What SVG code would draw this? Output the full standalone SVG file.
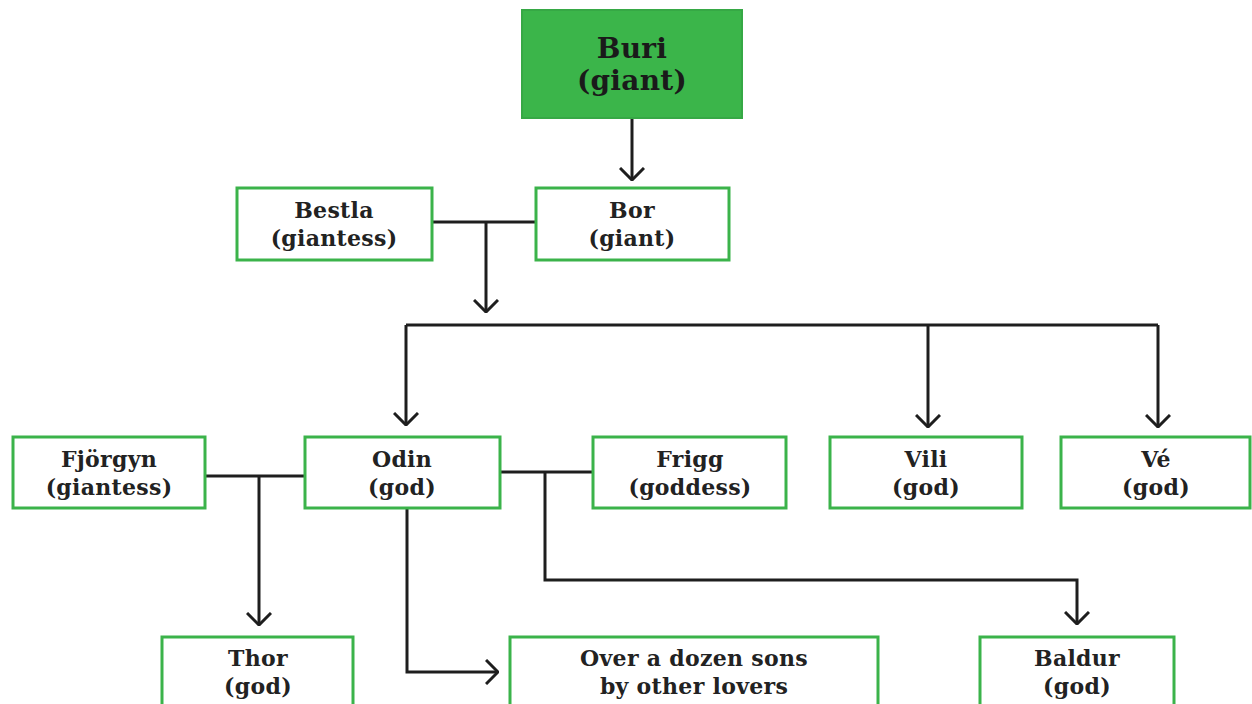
<svg xmlns="http://www.w3.org/2000/svg" width="1252" height="704" viewBox="0 0 1252 704">
<style>
.box{fill:#fff;stroke:#3bb34a;stroke-width:3}
.top{fill:#3bb54a;stroke:#36a845;stroke-width:2}
.t{font-family:"DejaVu Serif","Liberation Serif",serif;font-weight:bold;font-size:22px;fill:#222;text-anchor:middle;letter-spacing:0.3px}
.tb{font-size:28px;fill:#1a1a1a}
.c{fill:none;stroke:#1e1e1e;stroke-width:3}
.a{marker-end:url(#arr)}
</style>
<defs>
<marker id="arr" viewBox="0 0 14 26" refX="13" refY="13" markerWidth="14" markerHeight="26" markerUnits="userSpaceOnUse" orient="auto">
<path d="M1,1 L13,13 L1,25" fill="none" stroke="#1e1e1e" stroke-width="3"/>
</marker>
</defs>
<rect width="1252" height="704" fill="#fff"/>
<g id="connectors">
<path class="c a" d="M632,118 V180"/>
<path class="c" d="M432,222 H536"/>
<path class="c a" d="M486,222 V312"/>
<path class="c" d="M406,325 H1158"/>
<path class="c a" d="M406,325 V425"/>
<path class="c a" d="M928,325 V427"/>
<path class="c a" d="M1158,325 V427"/>
<path class="c" d="M205,476 H305"/>
<path class="c a" d="M259,476 V625"/>
<path class="c" d="M500,472 H593"/>
<path class="c a" d="M545,472 V580 H1077 V624"/>
<path class="c a" d="M407,509 V672 H498"/>
</g>
<g id="buri"><rect class="top" x="522" y="10" width="220" height="108"/><text class="t tb" x="632" y="58">Buri</text><text class="t tb" x="632" y="90">(giant)</text></g>
<g id="bestla"><rect class="box" x="237" y="188" width="195" height="72"/><text class="t" x="334" y="218">Bestla</text><text class="t" x="334" y="246">(giantess)</text></g>
<g id="bor"><rect class="box" x="536" y="188" width="193" height="72"/><text class="t" x="632" y="218">Bor</text><text class="t" x="632" y="246">(giant)</text></g>
<g id="fjorgyn"><rect class="box" x="13" y="437" width="192" height="71"/><text class="t" x="109" y="467">Fjörgyn</text><text class="t" x="109" y="495">(giantess)</text></g>
<g id="odin"><rect class="box" x="305" y="437" width="195" height="71"/><text class="t" x="402" y="467">Odin</text><text class="t" x="402" y="495">(god)</text></g>
<g id="frigg"><rect class="box" x="593" y="437" width="193" height="71"/><text class="t" x="690" y="467">Frigg</text><text class="t" x="690" y="495">(goddess)</text></g>
<g id="vili"><rect class="box" x="830" y="437" width="192" height="71"/><text class="t" x="926" y="467">Vili</text><text class="t" x="926" y="495">(god)</text></g>
<g id="ve"><rect class="box" x="1061" y="437" width="189" height="71"/><text class="t" x="1156" y="467">Vé</text><text class="t" x="1156" y="495">(god)</text></g>
<g id="thor"><rect class="box" x="162" y="637" width="191" height="80"/><text class="t" x="258" y="666">Thor</text><text class="t" x="258" y="694">(god)</text></g>
<g id="sons"><rect class="box" x="510" y="637" width="368" height="80"/><text class="t" x="694" y="666">Over a dozen sons</text><text class="t" x="694" y="694">by other lovers</text></g>
<g id="baldur"><rect class="box" x="980" y="637" width="194" height="80"/><text class="t" x="1077" y="666">Baldur</text><text class="t" x="1077" y="694">(god)</text></g>
</svg>
